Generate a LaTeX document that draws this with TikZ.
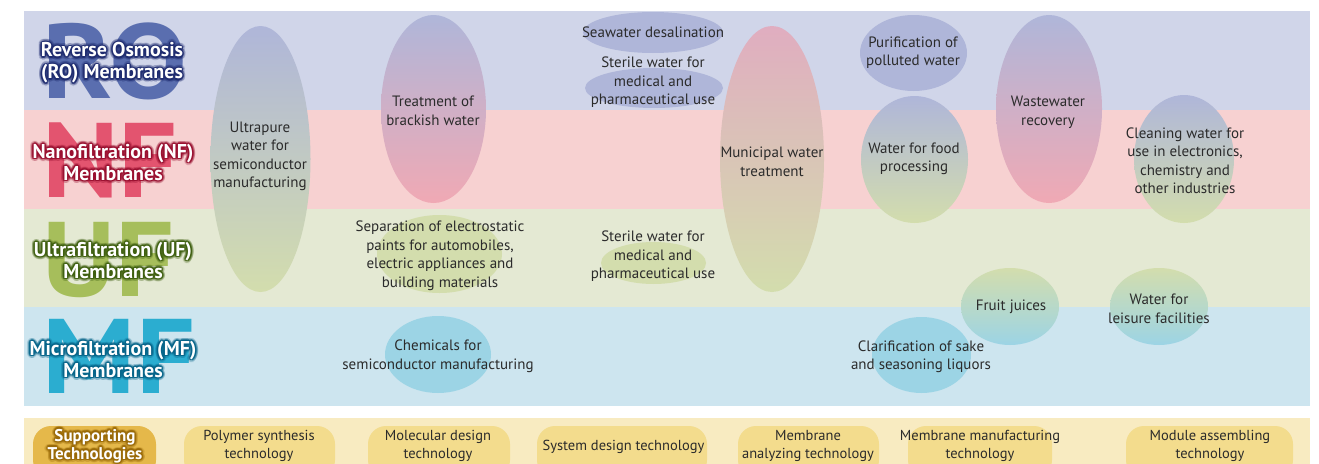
\documentclass[tikz,border=0pt]{standalone}
\usepackage{fontspec}
\setmainfont{PT Sans}
\newfontfamily\markfont{PT Sans}[FakeStretch=1.1]
\usetikzlibrary{shapes.geometric,calc}

\definecolor{roband}{HTML}{D0D5E9}
\definecolor{nfband}{HTML}{F7D1D1}
\definecolor{ufband}{HTML}{E4E9D3}
\definecolor{mfband}{HTML}{CDE5EF}
\definecolor{techband}{HTML}{F8EBC1}
\definecolor{pillc}{HTML}{F3DC8D}
\definecolor{suppc}{HTML}{E5B84A}
\definecolor{ink}{HTML}{2B2B2B}
\definecolor{roink}{HTML}{5A6EAF}
\definecolor{nfink}{HTML}{E3546F}
\definecolor{ufink}{HTML}{A6BE5B}
\definecolor{mfink}{HTML}{2BADD0}
\definecolor{roglow}{HTML}{1F2C70}
\definecolor{nfglow}{HTML}{9A1030}
\definecolor{ufglow}{HTML}{3F6010}
\definecolor{mfglow}{HTML}{06658A}
\definecolor{suppglow}{HTML}{9A6A08}
\definecolor{blueblob}{HTML}{AFB6D9}
\definecolor{pinkblob}{HTML}{F0A9B4}
\definecolor{greenblob}{HTML}{D3DDAD}
\definecolor{cyanblob}{HTML}{9CD4E5}
\definecolor{mauveblob}{HTML}{E0ADC0}
\definecolor{roseblob}{HTML}{ECB8B5}

% white caption with a soft coloured halo: name, style, x, y, halo colour, text
\newcommand\glowtext[6]{%
  \foreach \ang [count=\k] in {0,30,...,330}
    \node[#2, text=#5, text opacity=0.55] (#1-a\k) at ($(#3,#4)+(\ang:1.5)$) {#6};
  \foreach \ang [count=\k] in {0,22.5,...,337.5}
    \node[#2, text=#5, text opacity=0.18] (#1-b\k) at ($(#3,#4)+(\ang:3.2)$) {#6};
  \node[#2, text=white] (#1) at (#3,#4) {#6};
}

\begin{document}
\begin{tikzpicture}[x=1pt,y=-1pt,
  blob/.style={ellipse, draw=none, inner sep=0pt},
  usage/.style={font=\fontsize{15}{18.5}\selectfont, text=ink, align=center, inner sep=0pt},
  bigmark/.style={font=\fontsize{106}{106}\markfont\bfseries, inner sep=0pt, anchor=base},
  lbl/.style={font=\fontsize{20}{22}\selectfont\bfseries, align=center, inner sep=0pt},
  supp/.style={font=\fontsize{17}{18}\selectfont\bfseries, align=center, inner sep=0pt},
  pill/.style={fill=pillc, rounded corners=18pt},
  tech/.style={font=\fontsize{14.5}{18}\selectfont, text=ink, align=center, inner sep=0pt}]

\path[use as bounding box] (0,0) rectangle (1319,463);
\clip (0,0) rectangle (1319,463);

% membrane bands
\fill[roband] (24,11)  rectangle (1310,110);
\fill[nfband] (24,110) rectangle (1310,209);
\fill[ufband] (24,209) rectangle (1310,307);
\fill[mfband] (24,307) rectangle (1310,406);

% application fields
\node[blob, minimum width=100, minimum height=266, top color=blueblob, middle color=roseblob, bottom color=greenblob] (e-ultra) at (260.5,159) {};
\node[blob, minimum width=105, minimum height=188, top color=blueblob, bottom color=pinkblob] (e-brack) at (433.5,109) {};
\node[blob, minimum width=140, minimum height=41, fill=blueblob] (e-sea) at (653,32.5) {};
\node[blob, minimum width=138, minimum height=40, fill=blueblob] (e-sterro) at (654,88) {};
\node[blob, minimum width=104, minimum height=266, top color=mauveblob, middle color=roseblob, bottom color=greenblob] (e-muni) at (772,159) {};
\node[blob, minimum width=107, minimum height=76, fill=blueblob] (e-puri) at (913.5,53) {};
\node[blob, minimum width=107, minimum height=127, top color=blueblob, middle color=pinkblob, bottom color=greenblob] (e-food) at (914.5,159.5) {};
\node[blob, minimum width=106, minimum height=188, top color=blueblob, bottom color=pinkblob] (e-waste) at (1049,109) {};
\node[blob, minimum width=100, minimum height=128, top color=blueblob, middle color=pinkblob, bottom color=greenblob] (e-clean) at (1184,159) {};
\node[blob, minimum width=125, minimum height=78, fill=greenblob] (e-sep) at (439.5,254) {};
\node[blob, minimum width=105, minimum height=42, fill=greenblob] (e-steruf) at (653.5,263) {};
\node[blob, minimum width=98, minimum height=77, top color=greenblob, bottom color=cyanblob] (e-fruit) at (1010,306.5) {};
\node[blob, minimum width=98, minimum height=77, top color=greenblob, bottom color=cyanblob] (e-leis) at (1159,306.5) {};
\node[blob, minimum width=106, minimum height=77, fill=cyanblob] (e-chem) at (438,354.5) {};
\node[blob, minimum width=99, minimum height=76, fill=cyanblob] (e-clar) at (921.5,355) {};

\node[usage] (t-ultra) at (260,156.5) {Ultrapure\\water for\\semiconductor\\manufacturing};
\node[usage] (t-brack) at (433,111) {Treatment of\\brackish water};
\node[usage] (t-sea) at (653,32) {Seawater desalination};
\node[usage] (t-sterro) at (653,82.5) {Sterile water for\\medical and\\pharmaceutical use};
\node[usage] (t-muni) at (772,162) {Municipal water\\treatment};
\node[usage] (t-puri) at (913,52.5) {Purification of\\polluted water};
\node[usage] (t-food) at (914,159) {Water for food\\processing};
\node[usage] (t-waste) at (1048,112.5) {Wastewater\\recovery};
\node[usage] (t-clean) at (1185,160.5) {Cleaning water for\\use in electronics,\\chemistry and\\other industries};
\node[usage] (t-sep) at (440,255.7) {Separation of electrostatic\\paints for automobiles,\\electric appliances and\\building materials};
\node[usage] (t-steruf) at (653,256.3) {Sterile water for\\medical and\\pharmaceutical use};
\node[usage] (t-chem) at (438,356) {Chemicals for\\semiconductor manufacturing};
\node[usage] (t-fruit) at (1011,307) {Fruit juices};
\node[usage] (t-leis) at (1159,309) {Water for\\leisure facilities};
\node[usage] (t-clar) at (921,356.5) {Clarification of sake\\and seasoning liquors};

% large membrane initials
\node[bigmark, text=roink] (m-ro) at (115,98) {RO};
\node[bigmark, text=nfink] (m-nf) at (110,197) {NF};
\node[bigmark, text=ufink] (m-uf) at (109,296) {UF};
\node[bigmark, text=mfink] (m-mf) at (119,393) {MF};

% membrane captions
\glowtext{c-ro}{lbl}{112}{63}{roglow}{Reverse Osmosis\\(RO) Membranes}
\glowtext{c-nf}{lbl}{113}{162.5}{nfglow}{Nanofiltration (NF)\\Membranes}
\glowtext{c-uf}{lbl}{113}{260.5}{ufglow}{Ultrafiltration (UF)\\Membranes}
\glowtext{c-mf}{lbl}{113}{359.5}{mfglow}{Microfiltration (MF)\\Membranes}

% supporting technologies strip
\fill[techband] (24,418) rectangle (1310,470);
\fill[suppc, rounded corners=18pt] (33,426) rectangle (156,478);
\fill[pill] (184,426) rectangle (335,478);
\fill[pill] (368,426) rectangle (510,478);
\fill[pill] (537,426) rectangle (707,478);
\fill[pill] (738,426) rectangle (879,478);
\fill[pill] (908,426) rectangle (1052,478);
\fill[pill] (1126,426) rectangle (1293,478);

\glowtext{s-supp}{supp}{95}{446}{suppglow}{Supporting\\Technologies}
\node[tech] (s-poly) at (259,446) {Polymer synthesis\\technology};
\node[tech] (s-mol) at (438,446) {Molecular design\\technology};
\node[tech] (s-sys) at (623.5,447) {System design technology};
\node[tech] (s-ana) at (808,446) {Membrane\\analyzing technology};
\node[tech] (s-man) at (980,446) {Membrane manufacturing\\technology};
\node[tech] (s-mod) at (1210,446) {Module assembling\\technology};

\end{tikzpicture}
\end{document}
